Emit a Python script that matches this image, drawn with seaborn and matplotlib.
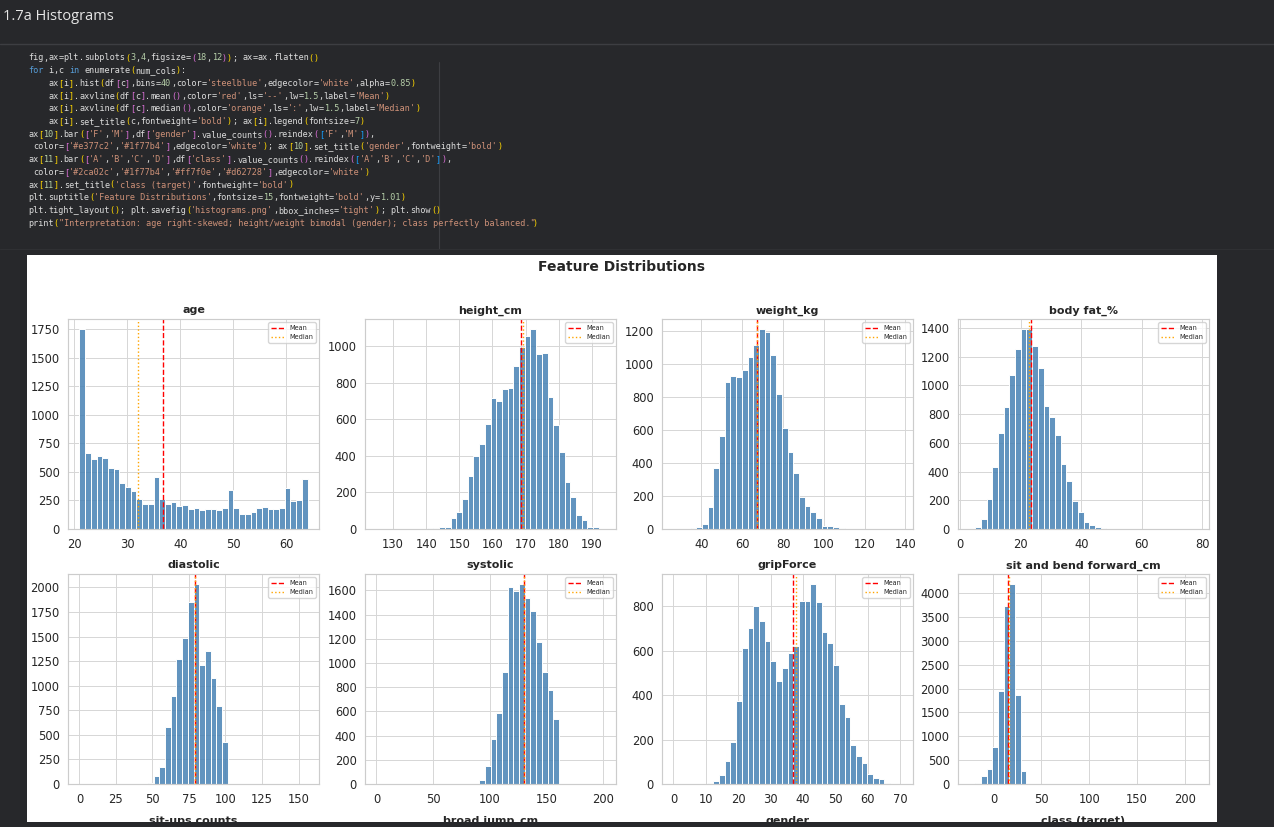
import re
import numpy as np
import pandas as pd
import matplotlib
matplotlib.use("Agg")
import matplotlib.pyplot as plt
import seaborn as sns
from matplotlib.patches import Rectangle
from matplotlib.lines import Line2D
from matplotlib.ticker import MultipleLocator

# ---------------- data ----------------
columns = ["age", "height_cm", "weight_kg", "body fat_%",
           "diastolic", "systolic", "gripForce", "sit and bend forward_cm"]
cut_titles = ["sit-ups counts", "broad jump_cm", "gender", "class (target)"]

age_range = (21.0, 64.0)
age_counts = [1750, 661, 609, 635, 623, 535, 521, 404, 369, 331, 266, 219, 219, 454,
              266, 222, 234, 205, 208, 176, 187, 164, 176, 176, 167, 184, 345, 187,
              135, 129, 146, 181, 193, 176, 176, 187, 363, 246, 258, 439]
age_mean, age_median = 36.78, 32.0

height_range = (125.0, 193.8)
height_counts = [1, 0, 0, 0, 1, 1, 1, 2, 2, 4, 5, 9, 13, 60, 95, 165, 291, 399, 463,
                 573, 714, 698, 766, 773, 890, 994, 1053, 1093, 958, 963, 720, 568,
                 423, 258, 176, 77, 51, 13, 13, 2]
height_mean, height_median = 168.56, 169.2

weight_range = (26.3, 138.1)
weight_counts = [1, 1, 3, 6, 15, 28, 132, 368, 567, 895, 927, 923, 964, 1047, 1117,
                 1214, 1196, 1057, 817, 616, 466, 342, 197, 138, 102, 65, 20, 16, 11,
                 4, 3, 2, 1, 1, 0, 1, 0, 0, 0, 1]
weight_mean, weight_median = 67.45, 67.4

fat_range = (3.0, 78.4)
fat_counts = [2, 14, 70, 210, 431, 671, 846, 1072, 1253, 1390, 1392, 1274, 1120, 853,
              780, 655, 450, 333, 198, 121, 49, 30, 14, 5, 3, 2, 1, 1, 0, 0, 0, 0, 0,
              0, 0, 0, 0, 0, 0, 1]
fat_mean, fat_median = 23.24, 22.8

diastolic_range = (0.0, 156.2)
diastolic_counts = [1, 0, 0, 0, 0, 0, 0, 0, 0, 0, 0, 1, 10, 78, 170, 578, 895, 1269,
                    1480, 1854, 2034, 1207, 1354, 1082, 793, 425, 3, 0, 0, 0, 0, 0, 0,
                    0, 0, 0, 0, 0, 0, 1]
diastolic_mean, diastolic_median = 78.80, 79.0

systolic_range = (0.0, 201.0)
systolic_counts = [1, 0, 0, 0, 0, 0, 0, 0, 0, 0, 0, 0, 0, 0, 0, 0, 0, 3, 36, 152, 373,
                   589, 926, 1625, 1597, 1652, 1534, 1429, 1177, 928, 776, 533, 2, 0,
                   0, 0, 0, 0, 0, 1]
systolic_mean, systolic_median = 130.23, 130.0

grip_range = (0.0, 70.5)
grip_counts = [1, 0, 0, 0, 0, 2, 4, 13, 39, 105, 189, 373, 611, 704, 803, 733, 643,
               554, 463, 520, 591, 622, 822, 822, 900, 818, 685, 636, 535, 358, 301,
               174, 126, 94, 45, 27, 22, 3, 1, 1]
grip_mean, grip_median = 36.96, 37.9

sitbend_range = (-25.0, 213.0)
sitbend_counts = [3, 30, 174, 314, 767, 1951, 3742, 4195, 1868, 279, 2, 0, 0, 0, 0, 0,
                  0, 0, 0, 0, 0, 0, 0, 0, 0, 0, 0, 0, 0, 0, 0, 0, 0, 0, 0, 0, 0, 0, 0, 1]
sitbend_mean, sitbend_median = 15.21, 16.2

code_lines = [
    "fig,ax=plt.subplots(3,4,figsize=(18,12)); ax=ax.flatten()",
    "for i,c in enumerate(num_cols):",
    "    ax[i].hist(df[c],bins=40,color='steelblue',edgecolor='white',alpha=0.85)",
    "    ax[i].axvline(df[c].mean(),color='red',ls='--',lw=1.5,label='Mean')",
    "    ax[i].axvline(df[c].median(),color='orange',ls=':',lw=1.5,label='Median')",
    "    ax[i].set_title(c,fontweight='bold'); ax[i].legend(fontsize=7)",
    "ax[10].bar(['F','M'],df['gender'].value_counts().reindex(['F','M']),",
    " color=['#e377c2','#1f77b4'],edgecolor='white'); ax[10].set_title('gender',fontweight='bold')",
    "ax[11].bar(['A','B','C','D'],df['class'].value_counts().reindex(['A','B','C','D']),",
    " color=['#2ca02c','#1f77b4','#ff7f0e','#d62728'],edgecolor='white')",
    "ax[11].set_title('class (target)',fontweight='bold')",
    "plt.suptitle('Feature Distributions',fontsize=15,fontweight='bold',y=1.01)",
    "plt.tight_layout(); plt.savefig('histograms.png',bbox_inches='tight'); plt.show()",
    "print(\"Interpretation: age right-skewed; height/weight bimodal (gender); class perfectly balanced.\")",
]
header_text = "1.7a Histograms"
suptitle_text = "Feature Distributions"

panels = [
    (age_range, age_counts, age_mean, age_median),
    (height_range, height_counts, height_mean, height_median),
    (weight_range, weight_counts, weight_mean, weight_median),
    (fat_range, fat_counts, fat_mean, fat_median),
    (diastolic_range, diastolic_counts, diastolic_mean, diastolic_median),
    (systolic_range, systolic_counts, systolic_mean, systolic_median),
    (grip_range, grip_counts, grip_mean, grip_median),
    (sitbend_range, sitbend_counts, sitbend_mean, sitbend_median),
]

# ---------------- style / layout ----------------
W, H = 1274, 827
BG = "#27282b"
x_steps = [10, 10, 20, 20, 25, 50, 10, 50]
y_steps = [250, 200, 200, 200, 250, 200, 200, 500]
col_left = [68, 365, 662, 958]
row_top = [319, 574]
AX_W, AX_H = 251, 210

sns.set_theme(style="whitegrid")
plt.rcParams.update({
    "font.family": ["DejaVu Sans"],
    "xtick.labelsize": 8.3,
    "ytick.labelsize": 8.3,
    "xtick.major.size": 0,
    "ytick.major.size": 0,
    "xtick.major.pad": 6.5,
    "ytick.major.pad": 6.0,
    "grid.linewidth": 0.7,
    "axes.linewidth": 0.85,
    "axes.edgecolor": ".8",
    "grid.color": ".84",
})


def fx(x):
    return x / W


def fy(y):
    return 1 - y / H


fig = plt.figure(figsize=(W / 100, H / 100), dpi=100, facecolor=BG)

# notebook chrome
fig.text(fx(3), fy(17), header_text, fontsize=10.5, color="#e6e6e6",
         va="center", ha="left", family=["Open Sans", "DejaVu Sans"])
fig.add_artist(Line2D([0, 1], [fy(44), fy(44)], transform=fig.transFigure,
                      color="#3d3e42", lw=1.0))
fig.add_artist(Line2D([fx(439), fx(439)], [fy(62), fy(249)], transform=fig.transFigure,
                      color="#3d3e42", lw=0.8))
fig.add_artist(Line2D([0, 1], [fy(249), fy(249)], transform=fig.transFigure,
                      color="#2f3033", lw=0.8))

# code with simple syntax colouring
TOKEN_RE = re.compile(r"""('[^']*'|"[^"]*"|\b\d+(?:\.\d+)?\b|\b(?:for|in)\b|[()\[\]]|[A-Za-z_][A-Za-z_0-9]*|\s+|.)""")
bracket_cols = ["#ffd700", "#da70d6", "#179fff"]
CODE_FS = 6.08
CH_W = 5.1
depth = 0
for li, line in enumerate(code_lines):
    ypx = 58 + li * 12.7
    col = 0
    for m in TOKEN_RE.finditer(line):
        tok = m.group(0)
        if tok.isspace():
            col += len(tok)
            continue
        if tok[0] in "'\"":
            color = "#ce9178"
        elif tok in ("for", "in"):
            color = "#569cd6"
        elif tok[0].isdigit():
            color = "#b5cea8"
        elif tok in "([":
            color = bracket_cols[depth % 3]
            depth += 1
        elif tok in ")]":
            depth = max(depth - 1, 0)
            color = bracket_cols[depth % 3]
        else:
            color = "#dcdcdc"
        fig.text(fx(28 + col * CH_W), fy(ypx), tok, fontsize=CODE_FS, color=color,
                 va="center", ha="left", family="DejaVu Sans Mono")
        col += len(tok)

# white output panel
fig.add_artist(Rectangle((fx(27), fy(822)), fx(1217) - fx(27), fy(255) - fy(822),
                         transform=fig.transFigure, facecolor="white",
                         edgecolor="none", zorder=-1))

fig.text(fx(622), fy(267), suptitle_text, ha="center", va="center",
         fontsize=10, fontweight="bold", color=".15")

for idx, (name, (rng, counts, mean_v, med_v)) in enumerate(zip(columns, panels)):
    r, c = divmod(idx, 4)
    left, top = col_left[c], row_top[r]
    ax = fig.add_axes([fx(left), fy(top + AX_H), AX_W / W, AX_H / H])
    nb = len(counts)
    width = (rng[1] - rng[0]) / nb
    centers = rng[0] + width * (np.arange(nb) + 0.5)
    df = pd.DataFrame({"value": centers, "count": np.asarray(counts, dtype=float)})
    sns.histplot(data=df, x="value", weights="count", bins=nb, binrange=rng,
                 color="steelblue", edgecolor="white", alpha=0.85, linewidth=0.7,
                 ax=ax)
    ax.axvline(mean_v, color="red", ls="--", lw=1.0, label="Mean")
    ax.axvline(med_v, color="orange", ls=":", lw=1.0, label="Median")
    ax.set_title(name, fontweight="bold", fontsize=8, pad=4, color=".15")
    ax.set_xlabel("")
    ax.set_ylabel("")
    ax.xaxis.set_major_locator(MultipleLocator(x_steps[idx]))
    ax.yaxis.set_major_locator(MultipleLocator(y_steps[idx]))
    ax.legend(fontsize=4.7, loc="upper right")

# titles of the third row, cut off by the screenshot edge
for c, t in enumerate(cut_titles):
    fig.text(fx(col_left[c] + AX_W / 2), fy(823.5), t, ha="center", va="baseline",
             fontsize=8, fontweight="bold", color=".15", zorder=5)

fig.add_artist(Rectangle((0, 0), 1, fy(822), transform=fig.transFigure,
                         facecolor=BG, edgecolor="none", zorder=20))

fig.savefig("out.png", dpi=100, facecolor=BG)
